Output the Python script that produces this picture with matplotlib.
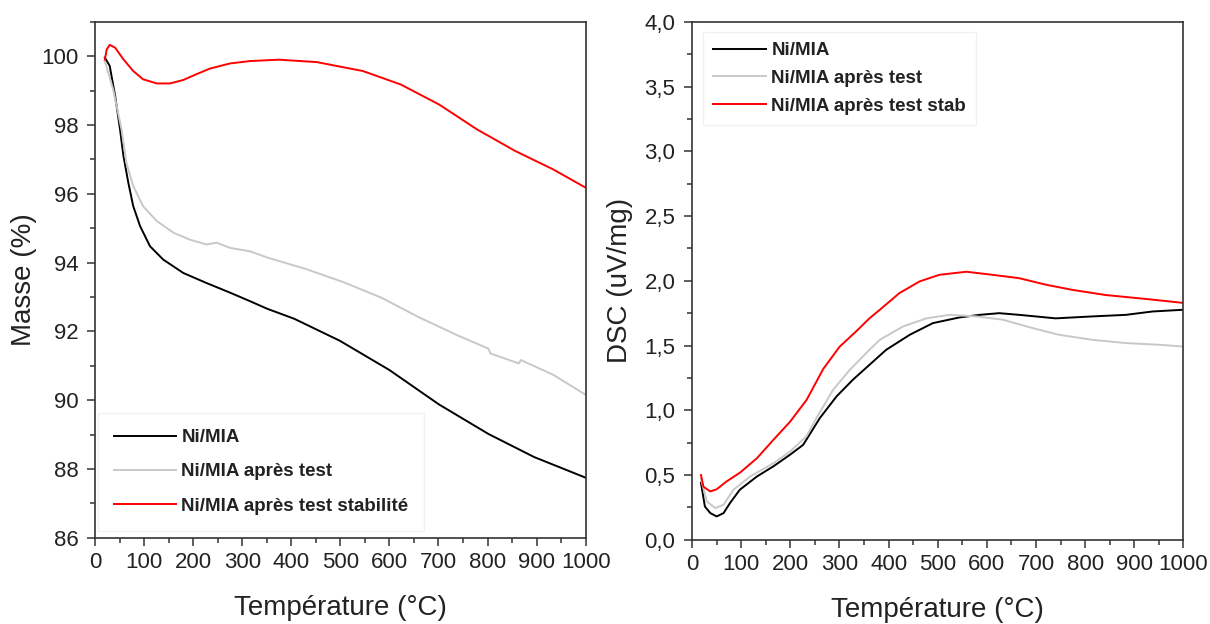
import numpy as np
import matplotlib
matplotlib.use("Agg")
import matplotlib.pyplot as plt
from matplotlib.ticker import MultipleLocator, FuncFormatter

plt.rcParams['font.family'] = ['Liberation Sans', 'DejaVu Sans']

labels_tga = ["Ni/MIA", "Ni/MIA après test", "Ni/MIA après test stabilité"]
labels_dsc = ["Ni/MIA", "Ni/MIA après test", "Ni/MIA après test stab"]
colors = ["#000000", "#c8c8c8", "#ff0000"]

# TGA (left): temperature (°C) and mass (%)
t_black = [20, 30, 41, 51, 58, 68, 78, 92, 112, 139, 180, 227, 275, 316, 351, 406, 499, 600, 701, 802, 895, 1000]
m_black = [99.96, 99.72, 98.85, 97.88, 97.1, 96.32, 95.64, 95.06, 94.48, 94.09, 93.7, 93.41, 93.13, 92.88,
           92.66, 92.37, 91.73, 90.88, 89.88, 89.02, 88.35, 87.75]
t_gray = [20, 37, 54, 64, 78, 98, 126, 160, 193, 227, 248, 275, 316, 351, 429, 507, 584, 662, 740, 802, 806,
          864, 868, 934, 1000]
m_gray = [99.86, 99.04, 97.88, 96.9, 96.23, 95.64, 95.21, 94.87, 94.67, 94.53, 94.58, 94.43, 94.33, 94.15,
          93.82, 93.43, 92.98, 92.4, 91.88, 91.5, 91.36, 91.07, 91.17, 90.74, 90.16]
t_red = [20, 24, 30, 41, 58, 78, 98, 126, 153, 180, 207, 234, 275, 316, 375, 452, 546, 623, 701, 779, 856, 934, 1000]
m_red = [99.9, 100.2, 100.33, 100.25, 99.91, 99.57, 99.33, 99.21, 99.21, 99.31, 99.48, 99.64, 99.79, 99.86,
         99.9, 99.83, 99.57, 99.18, 98.6, 97.87, 97.25, 96.71, 96.18]

# DSC (right): temperature (°C) and signal (uV/mg)
d_t_black = [18, 26, 37, 50, 64, 77, 97, 132, 165, 199, 226, 260, 294, 327, 361, 395, 443, 490, 544, 585, 625,
             666, 740, 815, 883, 937, 998]
d_black = [0.44, 0.257, 0.206, 0.18, 0.206, 0.283, 0.386, 0.489, 0.566, 0.656, 0.733, 0.94, 1.107, 1.235, 1.351,
           1.467, 1.583, 1.673, 1.717, 1.737, 1.75, 1.737, 1.71, 1.725, 1.737, 1.763, 1.776]
d_t_gray = [18, 30, 47, 64, 84, 118, 165, 199, 233, 253, 287, 321, 361, 382, 429, 477, 524, 578, 632, 693, 747,
            815, 883, 950, 998]
d_gray = [0.47, 0.296, 0.245, 0.27, 0.386, 0.489, 0.59, 0.68, 0.80, 0.94, 1.158, 1.313, 1.467, 1.544, 1.647,
          1.71, 1.737, 1.725, 1.70, 1.635, 1.583, 1.544, 1.519, 1.506, 1.493]
d_t_red = [18, 23, 37, 50, 70, 98, 132, 165, 199, 233, 267, 300, 334, 361, 382, 422, 463, 503, 558, 612, 666,
           720, 774, 842, 923, 998]
d_red = [0.50, 0.41, 0.373, 0.39, 0.45, 0.52, 0.63, 0.77, 0.91, 1.08, 1.32, 1.49, 1.61, 1.71, 1.776, 1.905,
         1.995, 2.046, 2.07, 2.046, 2.02, 1.97, 1.93, 1.89, 1.86, 1.83]

fig = plt.figure(figsize=(12.1, 6.24), dpi=100)
ax1 = fig.add_axes([0.0785, 0.138, 0.4055, 0.827])
ax2 = fig.add_axes([0.572, 0.135, 0.406, 0.83])

tc = "#222222"
lw = 1.4

for ax in (ax1, ax2):
    for s in ax.spines.values():
        s.set_color("#333333")
        s.set_linewidth(1.2)
    ax.tick_params(which='both', direction='out', colors='#333333', labelcolor=tc, labelsize=16, width=1.1)
    ax.tick_params(which='major', length=5.5)
    ax.tick_params(which='minor', length=3.5)
    ax.tick_params(axis='x', which='major', pad=4.5)
    ax.tick_params(axis='y', which='major', pad=6.5)
    ax.set_xlim(0, 1000)
    ax.xaxis.set_major_locator(MultipleLocator(100))
    ax.xaxis.set_minor_locator(MultipleLocator(50))
    ax.set_xlabel("Température (°C)", fontsize=20, color=tc, labelpad=16)

for t, m, c, lab in zip([t_black, t_gray, t_red], [m_black, m_gray, m_red], colors, labels_tga):
    ax1.plot(t, m, color=c, lw=lw, label=lab, solid_joinstyle='round')
ax1.set_ylim(86, 101)
ax1.yaxis.set_major_locator(MultipleLocator(2))
ax1.yaxis.set_minor_locator(MultipleLocator(1))
ax1.set_ylabel("Masse (%)", fontsize=20, color=tc, labelpad=3)
leg1 = ax1.legend(loc='upper left', bbox_to_anchor=(0.006, 0.242), prop={'weight': 'bold', 'size': 13.5},
                  frameon=True, fancybox=False, edgecolor='#eeeeee', handlelength=3.3, labelspacing=0.92,
                  handletextpad=0.3, borderpad=0.85, borderaxespad=0)
for txt in leg1.get_texts():
    txt.set_color(tc)

for t, d, c, lab in zip([d_t_black, d_t_gray, d_t_red], [d_black, d_gray, d_red], colors, labels_dsc):
    ax2.plot(t, d, color=c, lw=lw, label=lab, solid_joinstyle='round')
ax2.set_ylim(0, 4)
ax2.yaxis.set_major_locator(MultipleLocator(0.5))
ax2.yaxis.set_minor_locator(MultipleLocator(0.25))
ax2.yaxis.set_major_formatter(FuncFormatter(lambda v, p: f"{v:.1f}".replace('.', ',')))
ax2.set_ylabel("DSC (uV/mg)", fontsize=20, color=tc, labelpad=8)
leg2 = ax2.legend(loc='upper left', bbox_to_anchor=(0.022, 0.981), prop={'weight': 'bold', 'size': 13.5},
                  frameon=True, fancybox=False, edgecolor='#eeeeee', handlelength=2.8, labelspacing=0.57,
                  handletextpad=0.3, borderpad=0.55, borderaxespad=0)
for txt in leg2.get_texts():
    txt.set_color(tc)

fig.savefig("out.png", dpi=100)
